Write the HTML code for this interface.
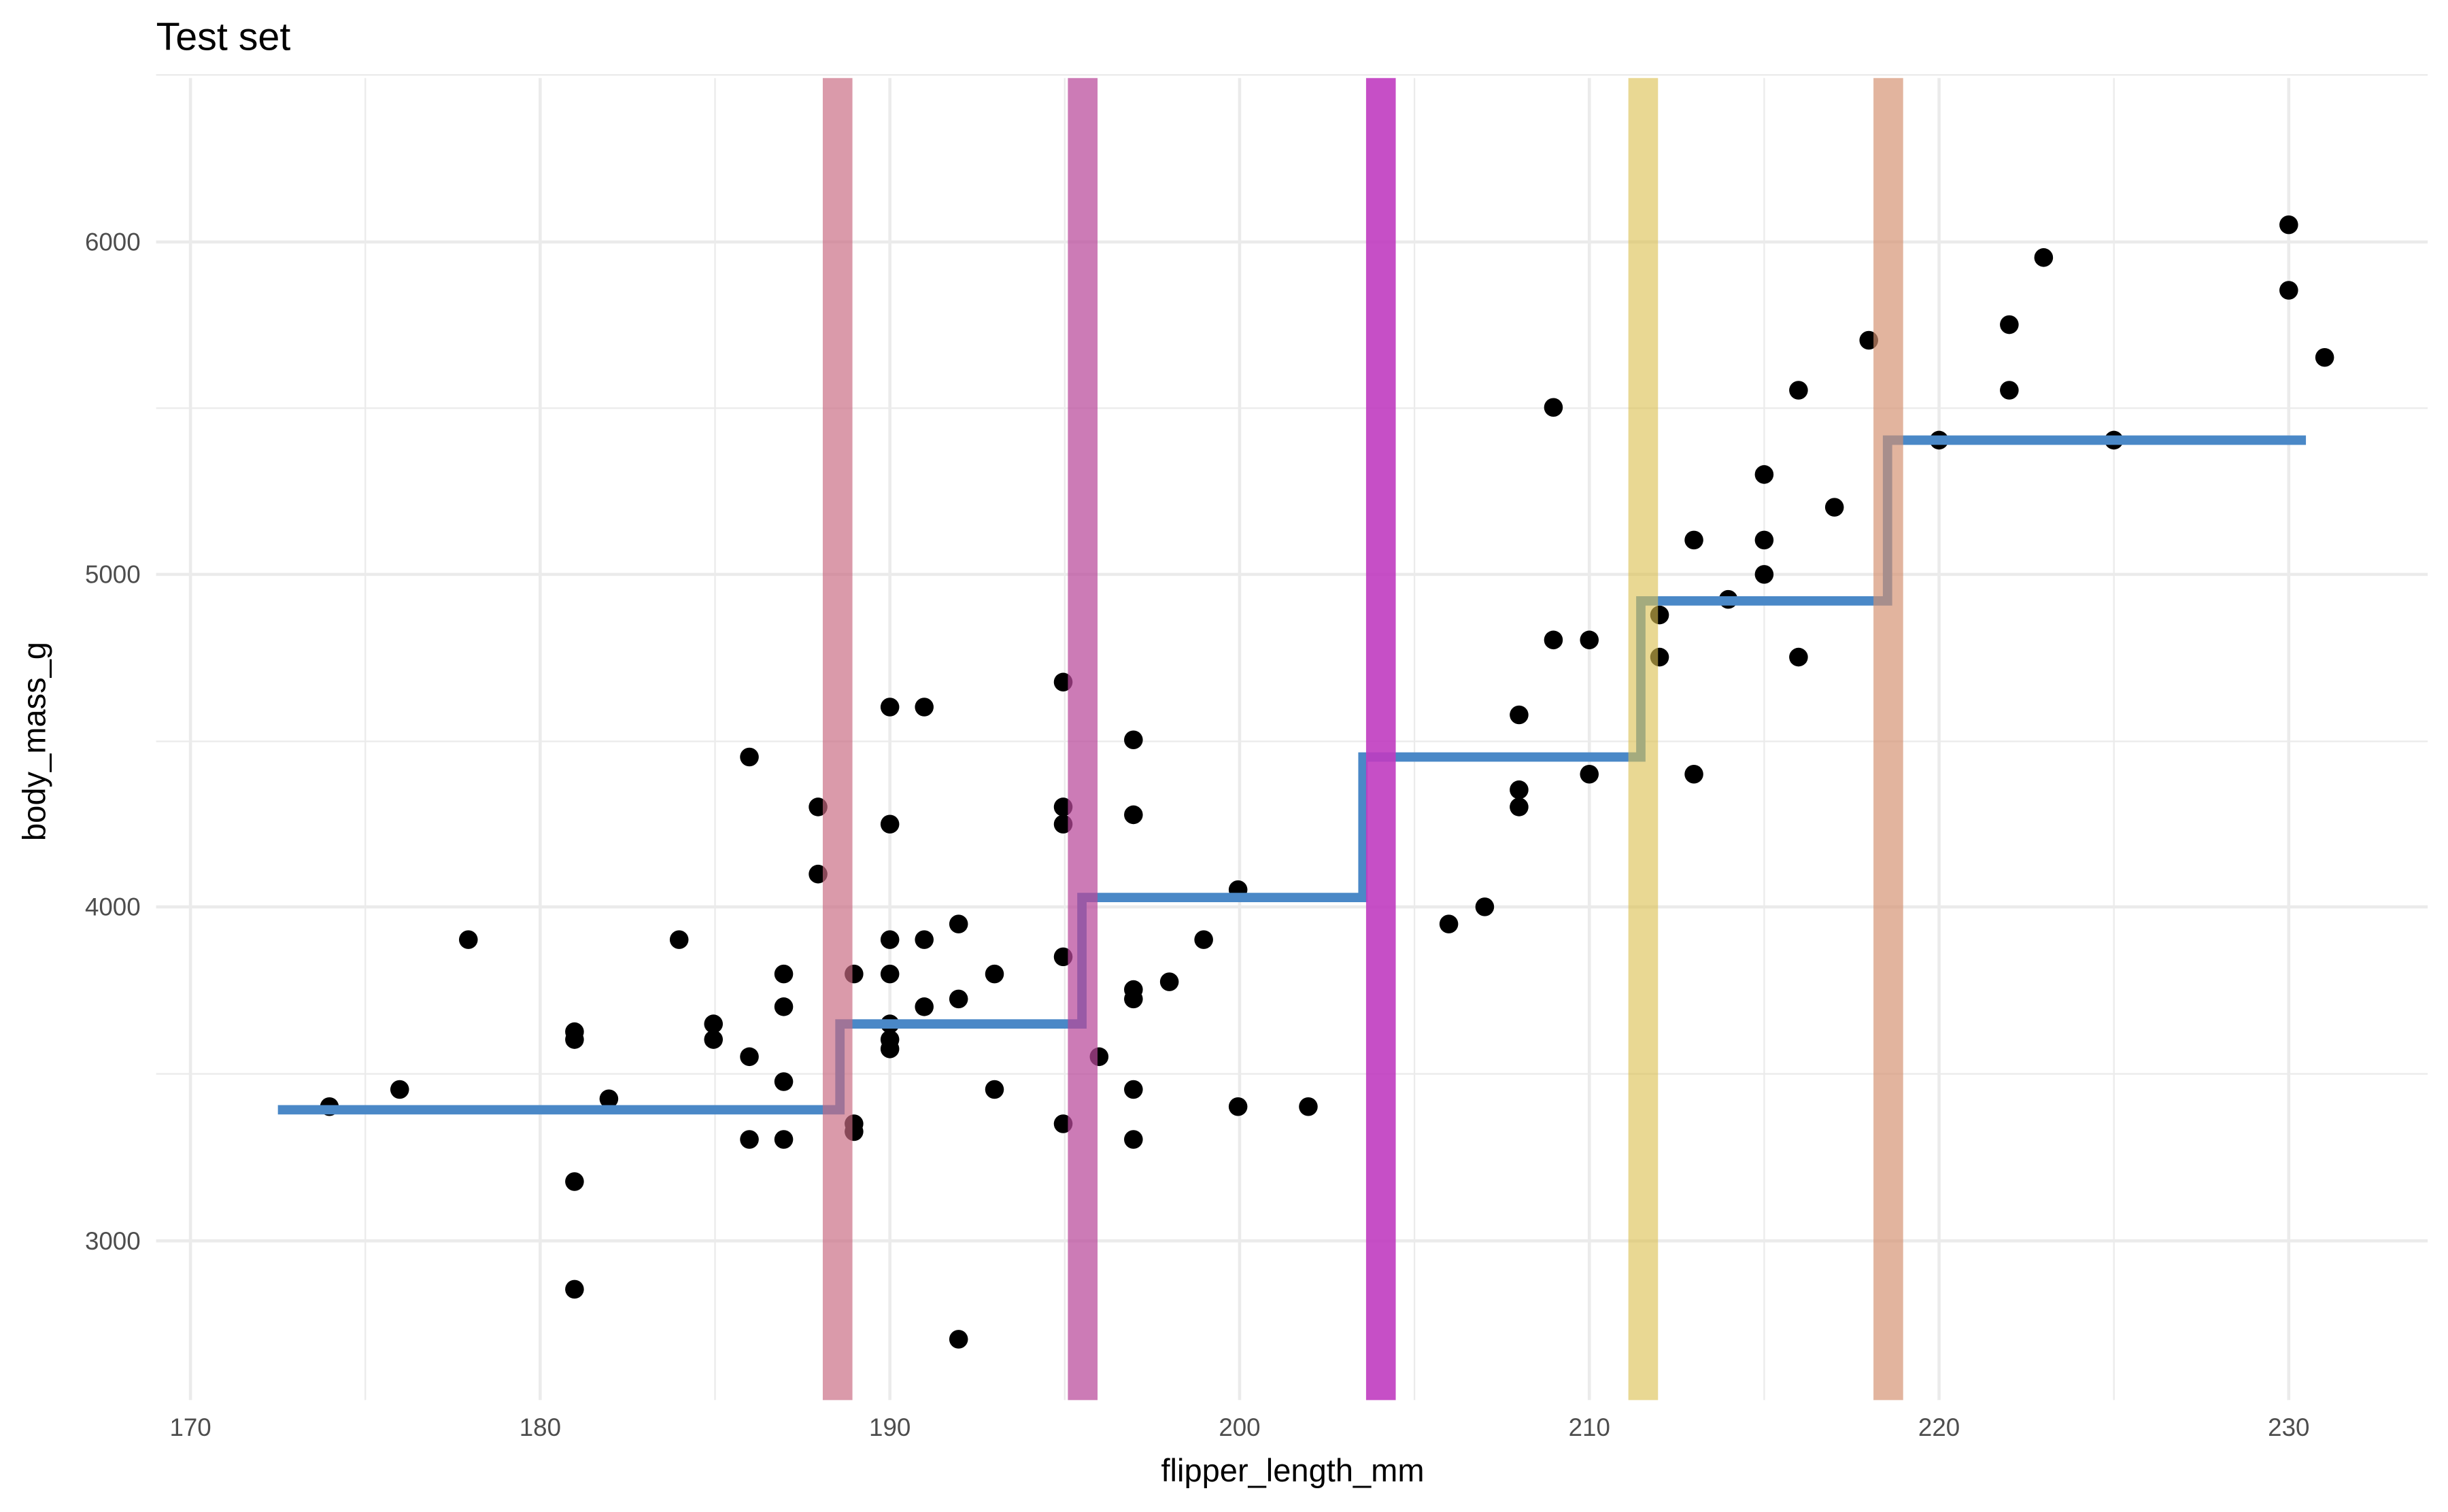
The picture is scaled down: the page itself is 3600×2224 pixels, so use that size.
<!DOCTYPE html>
<html><head><meta charset="utf-8"><style>
html,body{margin:0;padding:0;background:#fff;}
svg{display:block;}
text{font-family:"Liberation Sans",sans-serif;}
</style></head><body>
<svg width="3600" height="2224" viewBox="0 0 1568 968.7" preserveAspectRatio="none" xmlns="http://www.w3.org/2000/svg">
<rect width="1568" height="968.7" fill="#fff"/>
<g stroke="#ebebeb" stroke-width="1">
<line x1="100" x2="1555" y1="48" y2="48"/><line x1="100" x2="1555" y1="261.5" y2="261.5"/><line x1="100" x2="1555" y1="475" y2="475"/><line x1="100" x2="1555" y1="688" y2="688"/>
<line x1="234" x2="234" y1="50" y2="897"/><line x1="458" x2="458" y1="50" y2="897"/><line x1="682" x2="682" y1="50" y2="897"/><line x1="906" x2="906" y1="50" y2="897"/><line x1="1130" x2="1130" y1="50" y2="897"/><line x1="1354" x2="1354" y1="50" y2="897"/>
</g>
<g stroke="#ebebeb" stroke-width="2">
<line x1="100" x2="1555" y1="155" y2="155"/><line x1="100" x2="1555" y1="368" y2="368"/><line x1="100" x2="1555" y1="581" y2="581"/><line x1="100" x2="1555" y1="795" y2="795"/>
<line x1="122" x2="122" y1="50" y2="897"/><line x1="346" x2="346" y1="50" y2="897"/><line x1="570" x2="570" y1="50" y2="897"/><line x1="794" x2="794" y1="50" y2="897"/><line x1="1018" x2="1018" y1="50" y2="897"/><line x1="1242" x2="1242" y1="50" y2="897"/><line x1="1466" x2="1466" y1="50" y2="897"/>
</g>
<g fill="#000">
<circle cx="211" cy="709" r="6"/><circle cx="256" cy="698" r="6"/><circle cx="300" cy="602" r="6"/><circle cx="368" cy="661" r="6"/><circle cx="368" cy="666" r="6"/><circle cx="368" cy="757" r="6"/><circle cx="368" cy="826" r="6"/><circle cx="390" cy="704" r="6"/><circle cx="435" cy="602" r="6"/><circle cx="457" cy="656" r="6"/><circle cx="457" cy="666" r="6"/><circle cx="480" cy="485" r="6"/><circle cx="480" cy="677" r="6"/><circle cx="480" cy="730" r="6"/><circle cx="502" cy="624" r="6"/><circle cx="502" cy="645" r="6"/><circle cx="502" cy="693" r="6"/><circle cx="502" cy="730" r="6"/><circle cx="524" cy="517" r="6"/><circle cx="524" cy="560" r="6"/><circle cx="547" cy="624" r="6"/><circle cx="547" cy="720" r="6"/><circle cx="547" cy="725" r="6"/><circle cx="570" cy="453" r="6"/><circle cx="570" cy="528" r="6"/><circle cx="570" cy="602" r="6"/><circle cx="570" cy="624" r="6"/><circle cx="570" cy="656" r="6"/><circle cx="570" cy="666" r="6"/><circle cx="570" cy="672" r="6"/><circle cx="592" cy="453" r="6"/><circle cx="592" cy="602" r="6"/><circle cx="592" cy="645" r="6"/><circle cx="614" cy="592" r="6"/><circle cx="614" cy="640" r="6"/><circle cx="614" cy="858" r="6"/><circle cx="637" cy="624" r="6"/><circle cx="637" cy="698" r="6"/><circle cx="681" cy="437" r="6"/><circle cx="681" cy="517" r="6"/><circle cx="681" cy="528" r="6"/><circle cx="681" cy="613" r="6"/><circle cx="681" cy="720" r="6"/><circle cx="704" cy="677" r="6"/><circle cx="726" cy="474" r="6"/><circle cx="726" cy="522" r="6"/><circle cx="726" cy="634" r="6"/><circle cx="726" cy="640" r="6"/><circle cx="726" cy="698" r="6"/><circle cx="726" cy="730" r="6"/><circle cx="749" cy="629" r="6"/><circle cx="771" cy="602" r="6"/><circle cx="793" cy="570" r="6"/><circle cx="793" cy="709" r="6"/><circle cx="838" cy="709" r="6"/><circle cx="928" cy="592" r="6"/><circle cx="951" cy="581" r="6"/><circle cx="973" cy="458" r="6"/><circle cx="973" cy="506" r="6"/><circle cx="973" cy="517" r="6"/><circle cx="995" cy="261" r="6"/><circle cx="995" cy="410" r="6"/><circle cx="1018" cy="410" r="6"/><circle cx="1018" cy="496" r="6"/><circle cx="1063" cy="394" r="6"/><circle cx="1063" cy="421" r="6"/><circle cx="1085" cy="346" r="6"/><circle cx="1085" cy="496" r="6"/><circle cx="1107" cy="384" r="6"/><circle cx="1130" cy="304" r="6"/><circle cx="1130" cy="346" r="6"/><circle cx="1130" cy="368" r="6"/><circle cx="1152" cy="250" r="6"/><circle cx="1152" cy="421" r="6"/><circle cx="1175" cy="325" r="6"/><circle cx="1197" cy="218" r="6"/><circle cx="1242" cy="282" r="6"/><circle cx="1287" cy="208" r="6"/><circle cx="1287" cy="250" r="6"/><circle cx="1309" cy="165" r="6"/><circle cx="1354" cy="282" r="6"/><circle cx="1466" cy="144" r="6"/><circle cx="1466" cy="186" r="6"/><circle cx="1489" cy="229" r="6"/>
</g>
<polyline fill="none" stroke="#4a88c7" stroke-width="6" points="178,711 538,711 538,656 693,656 693,575 873,575 873,485 1051,485 1051,385 1209,385 1209,282 1477,282"/>
<rect x="527" y="50" width="19" height="847" fill="#c86a82" fill-opacity="0.68"/>
<rect x="684" y="50" width="19" height="847" fill="#b8489a" fill-opacity="0.72"/>
<rect x="875" y="50" width="19" height="847" fill="#c03cc0" fill-opacity="0.9"/>
<rect x="1043" y="50" width="19" height="847" fill="#dcc050" fill-opacity="0.62"/>
<rect x="1200" y="50" width="19" height="847" fill="#d49070" fill-opacity="0.68"/>
<g fill="#4d4d4d" font-size="16" text-anchor="end">
<text x="90" y="160.5">6000</text><text x="90" y="373.5">5000</text><text x="90" y="586.5">4000</text><text x="90" y="800.5">3000</text>
</g>
<g fill="#4d4d4d" font-size="16" text-anchor="middle">
<text x="122" y="920">170</text><text x="346" y="920">180</text><text x="570" y="920">190</text><text x="794" y="920">200</text><text x="1018" y="920">210</text><text x="1242" y="920">220</text><text x="1466" y="920">230</text>
</g>
<text x="828" y="949" font-size="20.5" text-anchor="middle" fill="#000">flipper_length_mm</text>
<text transform="translate(29,475) rotate(-90)" font-size="20.5" text-anchor="middle" fill="#000">body_mass_g</text>
<text x="100" y="32" font-size="25" fill="#000">Test set</text>
</svg>
</body></html>
